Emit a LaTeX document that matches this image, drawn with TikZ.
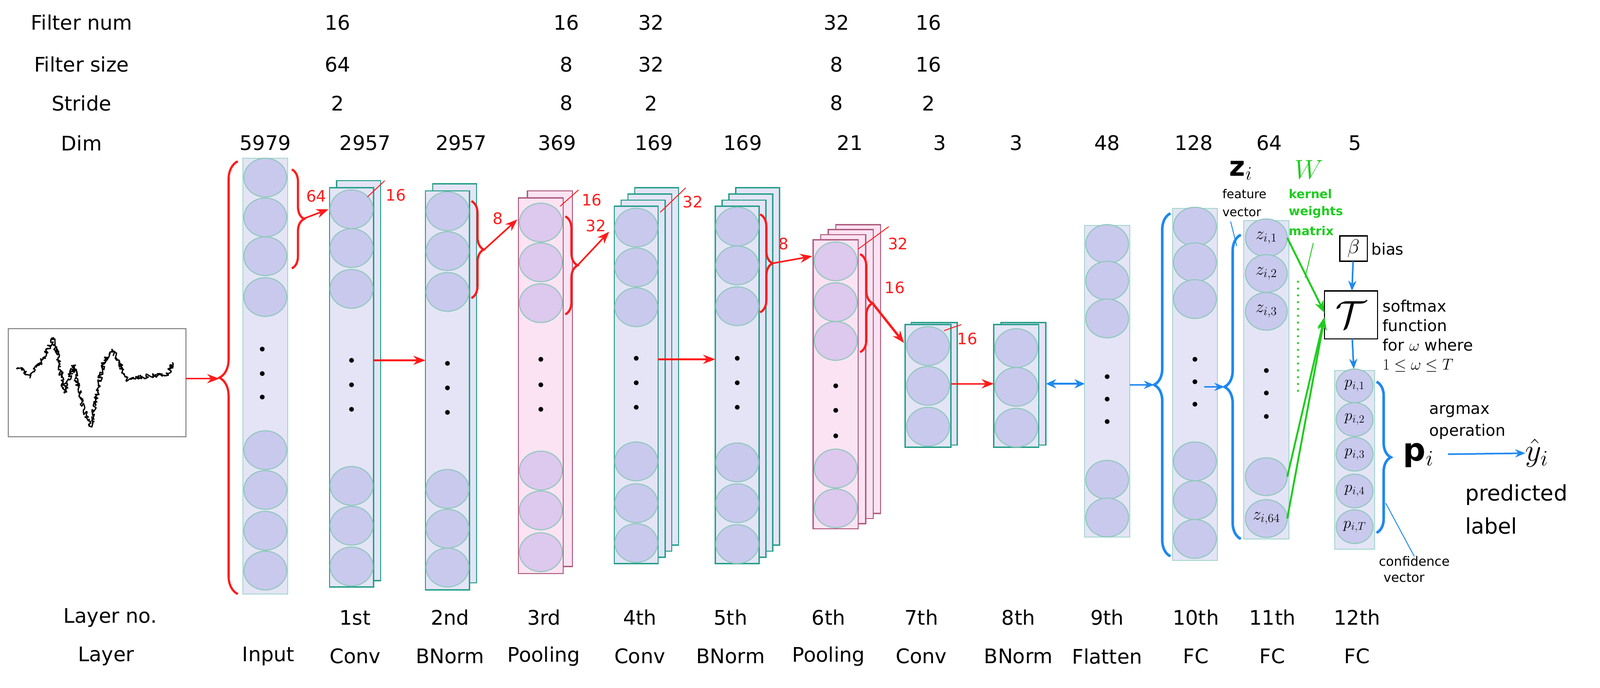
\RequirePackage{fix-cm}
\documentclass[tikz,border=0pt]{standalone}
\usepackage{fontspec}
\setmainfont{DejaVu Sans}
\usetikzlibrary{shapes.geometric,arrows.meta,decorations.pathreplacing,decorations.pathmorphing}
\definecolor{colfill}{HTML}{E4E4F6}
\definecolor{colline}{HTML}{A8D8D0}
\definecolor{convline}{HTML}{2AA08C}
\definecolor{poolline}{HTML}{B06080}
\definecolor{poolfill}{HTML}{FBE3F3}
\definecolor{circfill}{HTML}{C9C9EE}
\definecolor{circline}{HTML}{8FC8BC}
\definecolor{poolcirc}{HTML}{DDC8EE}
\definecolor{myred}{HTML}{FF1A1A}
\definecolor{myblue}{HTML}{1E88F0}
\definecolor{mygreen}{HTML}{1FCC1F}
\newcommand\lay[6]{\node[#6, minimum width={(#4-#2)*0.5mm}, minimum height={(#5-#3)*0.5mm}] (#1) at ({(#2+#4)/2},{(#3+#5)/2}) {};}
\newcommand\circs[4]{\foreach \yy [count=\k] in {#3} \node[#4] (#1\k) at (#2,\yy) {};}
\newcommand\dts[2]{\foreach \yy in {#2} \fill (#1,\yy) circle (3.4pt);}
\tikzset{
 every node/.style={inner sep=0pt, outer sep=0pt},
 lt/.style={draw=colline, fill=colfill, line width=1.4pt},
 cv/.style={draw=convline, fill=colfill, line width=1.8pt},
 pl/.style={draw=poolline, fill=poolfill, line width=1.8pt},
 cir/.style={ellipse, draw=circline, fill=circfill, line width=1.4pt, minimum width=21mm, minimum height=19mm},
 pcir/.style={cir, fill=poolcirc},
 zc/.style={cir, minimum width=20.5mm, minimum height=18.5mm, font=\fontsize{24}{26}\selectfont},
 pc/.style={cir, minimum width=18mm, minimum height=16.5mm, font=\fontsize{22}{24}\selectfont},
 big/.style={font=\fontsize{28}{32}\selectfont},
 rl/.style={font=\fontsize{22}{24}\selectfont, text=myred},
 rbr/.style={draw=myred, line width=3pt, decorate},
 bbr/.style={draw=myblue, line width=3.6pt, decorate},
 rar/.style={draw=myred, line width=2.2pt, -{Stealth[length=6mm,width=4.5mm]}},
 bar/.style={draw=myblue, line width=2.2pt, -{Stealth[length=5mm,width=4mm]}},
 gar/.style={draw=mygreen, line width=2.6pt, -{Stealth[length=6mm,width=4.5mm]}},
 sl/.style={draw=myred, line width=1.2pt},
 txt/.style={anchor=west, font=\fontsize{22}{24}\selectfont},
}
\begin{document}
\begin{tikzpicture}[x=0.5mm,y=-0.5mm]
\useasboundingbox (0,0) rectangle (1568,674);
% header labels
\node[big] (hfn) at (80,22) {Filter num};
\node[big] (hfs) at (80,63) {Filter size};
\node[big] (hst) at (80,101) {Stride};
\node[big] (hdim) at (80,140) {Dim};
\foreach \x/\a/\b/\c in {331/16/64/2, 555/16/8/8, 638/32/32/2, 820/32/8/8, 910/16/16/2}{
 \node[big] at (\x,22) {\a}; \node[big] at (\x,63) {\b}; \node[big] at (\x,101) {\c};}
\foreach \x/\d in {260/5979, 358/2957, 452/2957, 546/369, 641/169, 728/169, 833/21, 921/3, 996/3, 1085/48, 1170/128, 1244/64, 1328/5}
 \node[big] at (\x,140) {\d};
\node[big] (hln) at (108,605) {Layer no.};
\node[big] (hl) at (104,643) {Layer};
\node[big] at (263,643) {Input};
\foreach \x/\a/\b in {348/1st/Conv, 441/2nd/BNorm, 533/3rd/Pooling, 627/4th/Conv, 716/5th/BNorm, 812/6th/Pooling, 903/7th/Conv, 998/8th/BNorm, 1085/9th/Flatten, 1172/10th/FC, 1247/11th/FC, 1330/12th/FC}{
 \node[big] at (\x,605) {\a}; \node[big] at (\x,643) {\b};}
% signal
\node[draw=gray, line width=1.4pt, minimum width=87mm, minimum height=53mm] (sig) at (95,375) {};
\draw[line width=1.8pt, line join=round, decorate, decoration={random steps, segment length=0.45mm, amplitude=1.1mm}]
 (18,360) -- (30,368) -- (42,352) -- (52,332) -- (57,350) -- (63,385) -- (72,358) -- (80,395) -- (89,418) -- (96,380) -- (102,353) -- (111,344) -- (117,355) -- (124,372) -- (139,369) -- (155,368) -- (165,366) -- (169,355);
% input
\lay{inp}{238}{155}{282}{582}{lt}
\circs{ic}{260}{174,213,251,291,441,480,520,559}{cir}
\dts{257}{342,366,389}
% 1st conv
\lay{c1b}{330}{177}{373}{569}{cv}
\lay{c1f}{323}{184}{366}{575}{cv}
\circs{c1c}{344.5}{205,243,283,476,515,555}{cir}
\dts{344.5}{353,377,401}
% 2nd
\lay{c2b}{424}{180}{467}{571}{cv}
\lay{c2f}{417}{187}{460}{578}{cv}
\circs{c2c}{438.5}{207,246,286,479,518,556}{cir}
\dts{438.5}{356,380,404}
% 3rd pooling
\lay{c3b}{517}{187}{561}{555}{pl}
\lay{c3f}{508}{194}{552}{562}{pl}
\circs{c3c}{530}{218,257,297,461,500,541}{pcir}
\dts{530}{352,377,401}
% 4th
\lay{c4b3}{622}{184}{665}{534}{cv}
\lay{c4b2}{615.3}{190}{658.3}{540}{cv}
\lay{c4b1}{608.7}{196}{651.7}{546}{cv}
\lay{c4f}{602}{202}{645}{552}{cv}
\circs{c4c}{623.5}{223,262,301,452,493,532}{cir}
\dts{623.5}{351,375,399}
% 5th
\lay{c5b3}{721}{184}{764}{534}{cv}
\lay{c5b2}{714.3}{190}{757.3}{540}{cv}
\lay{c5b1}{707.7}{196}{750.7}{546}{cv}
\lay{c5f}{701}{202}{744}{552}{cv}
\circs{c5c}{722.5}{222,260,300,453,493,533}{cir}
\dts{722.5}{351,375,399}
% 6th pooling
\lay{c6b3}{819}{220}{863}{503}{pl}
\lay{c6b2}{811.7}{225}{855.7}{508}{pl}
\lay{c6b1}{804.3}{230}{848.3}{513}{pl}
\lay{c6f}{797}{235}{841}{518}{pl}
\circs{c6c}{819}{256,296,334,459,498}{pcir}
\dts{819}{378,402,427}
% 7th
\lay{c7b}{893}{316}{938}{436}{cv}
\lay{c7f}{887}{318}{932}{438}{cv}
\circs{c7c}{909.5}{339,378,418}{cir}
% 8th
\lay{c8b}{981}{316}{1025}{436}{cv}
\lay{c8f}{974}{318}{1018}{438}{cv}
\circs{c8c}{996}{341,379,419}{cir}
% 9th
\lay{c9}{1063}{221}{1107}{526}{lt}
\circs{c9c}{1085}{239,275,312,470,507}{cir}
\dts{1085}{369,391,413}
% 10th
\lay{c10}{1149}{204}{1193}{549}{lt}
\circs{c10c}{1171}{222,257,293,452,490,528}{cir}
\dts{1171}{352,374,396}
% 11th
\lay{c11}{1219}{216}{1263}{528}{lt}
\node[zc] (z1) at (1241,233) {$z_{i,1}$};
\node[zc] (z2) at (1241,268) {$z_{i,2}$};
\node[zc] (z3) at (1241,305) {$z_{i,3}$};
\node[zc] (z63) at (1241,467) {};
\node[zc] (z64) at (1241,508) {$z_{i,64}$};
\dts{1241}{363,385,408}
% 12th
\lay{c12}{1308}{363}{1347}{538}{lt}
\node[pc] (p1) at (1327.5,378) {$p_{i,1}$};
\node[pc] (p2) at (1327.5,411) {$p_{i,2}$};
\node[pc] (p3) at (1327.5,445) {$p_{i,3}$};
\node[pc] (p4) at (1327.5,481) {$p_{i,4}$};
\node[pc] (pT) at (1327.5,516) {$p_{i,T}$};
% red braces and arrows
\draw[rbr, decoration={brace, amplitude=9mm}] (233,582) -- (233,158);
\coordinate (bin) at (215,371);
\draw[rar] (sig.east |- bin) -- (bin);
\draw[rbr, decoration={brace, amplitude=6mm}] (286,166) -- (286,263);
\coordinate (t64) at (298,214); \coordinate (e64) at (322,205);
\draw[rar] (t64) -- (e64);
\node[rl] at (310,192) {64};
\draw[rbr, decoration={brace, amplitude=6mm}] (462,197) -- (462,292);
\coordinate (t8a) at (474,245); \coordinate (e8a) at (507,215);
\draw[rar] (t8a) -- (e8a);
\node[rl] at (488,214) {8};
\draw[rbr, decoration={brace, amplitude=6mm}] (554,212) -- (554,308);
\coordinate (t32) at (566,260); \coordinate (e32) at (597,227);
\draw[rar] (t32) -- (e32);
\node[rl] at (584,221) {32};
\draw[rbr, decoration={brace, amplitude=6mm}] (745,210) -- (745,306);
\coordinate (t8b) at (757,258); \coordinate (e8b) at (796,251);
\draw[rar] (t8b) -- (e8b);
\node[rl] at (768,239) {8};
\draw[rbr, decoration={brace, amplitude=6mm}] (843,249) -- (843,345);
\coordinate (t16) at (855,297); \coordinate (e16) at (886,336);
\draw[rar, line width=3.2pt] (t16) -- (e16);
\node[rl] at (877,282) {16};
% filter count labels
\draw[sl] (360,193) -- (377,177); \node[rl] at (388,191) {16};
\draw[sl] (549,202) -- (567,186); \node[rl] at (580,196) {16};
\draw[sl] (647,208) -- (672,184); \node[rl] at (679,198) {32};
\draw[sl] (841,244) -- (871,222); \node[rl] at (880,239) {32};
\draw[sl] (925,324) -- (942,318); \node[rl] at (948,332) {16};
% straight arrows
\draw[rar] (c1f.east |- 0,353) -- (c2f.west |- 0,353);
\draw[rar] (c4f.east |- 0,352) -- (c5f.west |- 0,352);
\draw[rar] (c7f.east |- 0,376) -- (c8f.west |- 0,376);
\draw[draw=myblue, line width=3pt, {Stealth[length=5mm,width=4.5mm]}-{Stealth[length=5mm,width=4.5mm]}] (c8b.east |- 0,376) -- (c9.west |- 0,376);
% blue braces
\draw[bbr, decoration={brace, amplitude=8mm}] (1147,545) -- (1147,209);
\coordinate (t10) at (1131,377);
\draw[bar] (c9.east |- t10) -- (t10);
\draw[bbr, decoration={brace, amplitude=8mm}] (1216,528) -- (1216,230);
\coordinate (t11) at (1200,379); \coordinate (s11) at (1180,379);
\draw[bar] (s11) -- (t11);
\draw[bbr, decoration={brace, amplitude=7mm}] (1349,374) -- (1349,522);
% z_i, W
\node[font=\fontsize{38}{40}\selectfont] (zi) at (1216,167) {$\mathbf{z}_i$};
\node[anchor=west, font=\fontsize{17}{19}\selectfont] (fv1) at (1198,190) {feature};
\node[anchor=west, font=\fontsize{17}{19}\selectfont] (fv2) at (1198,208) {vector};
\coordinate (fvp) at (1206,217); \coordinate (fvq) at (1212,241);
\draw[myblue, line width=1.2pt] (fvp) -- (fvq);
\node[font=\fontsize{38}{40}\selectfont, text=mygreen] (W) at (1283,166) {$W$};
\node[anchor=west, font=\fontsize{17}{19}\selectfont\bfseries, text=mygreen] at (1263,190) {kernel};
\node[anchor=west, font=\fontsize{17}{19}\selectfont\bfseries, text=mygreen] at (1263,208) {weights};
\node[anchor=west, font=\fontsize{17}{19}\selectfont\bfseries, text=mygreen] at (1263,226) {matrix};
\coordinate (wp) at (1287,238); \coordinate (wq) at (1279,272);
\draw[mygreen, line width=1.2pt] (wp) -- (wq);
\coordinate (gd1) at (1272,276); \coordinate (gd2) at (1272,384);
\draw[mygreen, line width=3pt, line cap=round, dash pattern=on 0pt off 9.5pt] (gd1) -- (gd2);
% softmax
\node[draw, line width=1.8pt, fill=white, minimum width=13.5mm, minimum height=12.5mm, font=\fontsize{28}{30}\selectfont] (beta) at (1326.5,243.5) {$\beta$};
\node[txt] at (1344,244) {bias};
\node[draw, line width=1.8pt, fill=white, minimum width=26mm, minimum height=23.5mm, font=\fontsize{54}{56}\selectfont] (tau) at (1324,308.5) {$\mathcal{T}$};
\draw[bar] (beta) -- (tau);
\draw[bar] (tau) -- (p1);
\draw[gar] (z1.east) -- ([yshift=1mm]tau.west);
\draw[gar] (z63.east) -- ([yshift=-1mm]tau.west);
\draw[gar] (z64.east) -- ([yshift=-1.5mm]tau.west);
\node[txt] at (1355,300) {softmax};
\node[txt] at (1355,319) {function};
\node[txt] at (1355,338) {for $\omega$ where};
\node[txt] at (1355,358) {$1\leq\omega\leq T$};
\node[txt] at (1401,403) {argmax};
\node[txt] at (1401,423) {operation};
\node[font=\fontsize{44}{46}\selectfont] (pi) at (1390,446) {$\mathbf{p}_i$};
\node[font=\fontsize{44}{46}\selectfont] (yh) at (1506,444) {$\hat{y}_i$};
\draw[bar] (1419,445) -- (yh.west);
\node[anchor=west, font=\fontsize{30}{32}\selectfont] at (1436,485) {predicted};
\node[anchor=west, font=\fontsize{30}{32}\selectfont] at (1436,515) {label};
\node[font=\fontsize{18}{20}\selectfont] (cf1) at (1386,550) {confidence};
\node[font=\fontsize{18}{20}\selectfont] (cf2) at (1376,566) {vector};
\coordinate (cp) at (1358,493);
\draw[myblue, line width=1.2pt] (cp) -- (cf1.north);
\end{tikzpicture}
\end{document}
